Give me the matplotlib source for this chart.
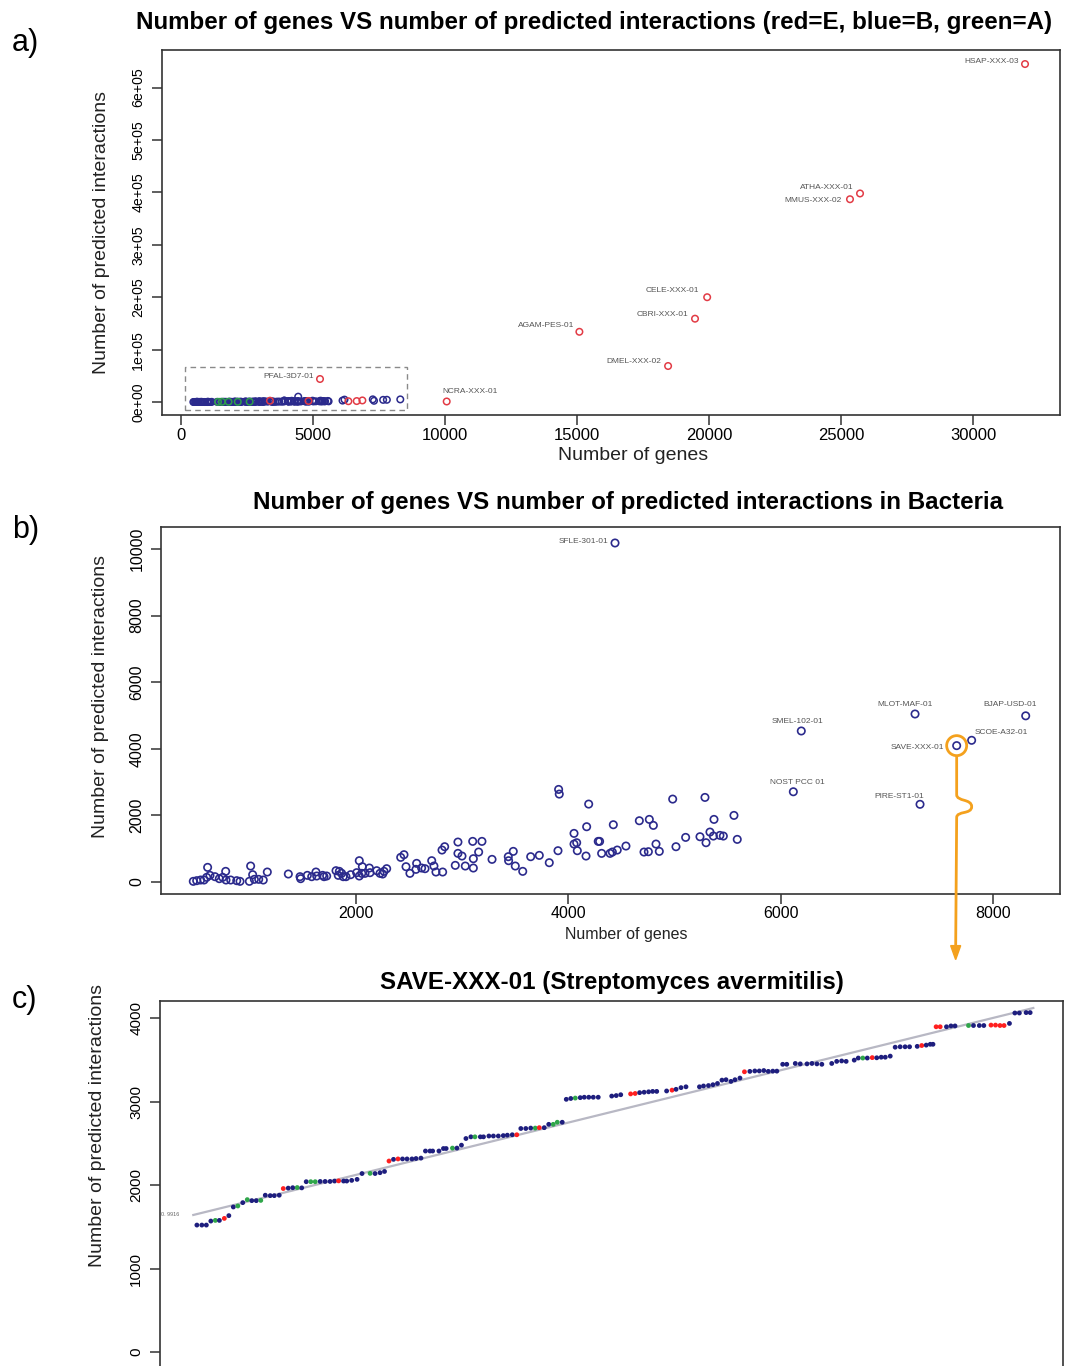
import numpy as np
import matplotlib.pyplot as plt
import matplotlib.patches as mpatches
import matplotlib.transforms as mtransforms
from matplotlib.path import Path

plt.rcParams['font.family'] = ['Liberation Sans', 'DejaVu Sans']

# bacteria (blue), genes vs predicted interactions
bact_genes = [468, 500, 537, 569, 603, 594, 625, 672, 713, 745,
              773, 776, 820, 877, 908, 996, 1008, 1027, 1043, 1084,
              1127, 1165, 1363, 1473, 1479, 1542, 1583, 1623, 1630, 1686,
              1699, 1724, 1812, 1843, 1833, 1865, 1880, 1906, 1950, 2006,
              2031, 2031, 2054, 2060, 2085, 2126, 2132, 2195, 2226, 2251,
              2264, 2289, 2421, 2452, 2471, 2508, 2571, 2565, 2618, 2650,
              2713, 2734, 2753, 2816, 2810, 2835, 2935, 2960, 2960, 2998,
              3029, 3099, 3105, 3105, 3155, 3186, 3281, 3434, 3437, 3481,
              3500, 3570, 3645, 3726, 3820, 3902, 3908, 3914, 4053, 4053,
              4078, 4084, 4172, 4166, 4191, 4281, 4294, 4313, 4392, 4414,
              4423, 4460, 4542, 4668, 4712, 4753, 4762, 4800, 4825, 4856,
              4982, 5013, 5104, 5239, 5286, 5296, 5333, 5371, 5365, 5427,
              5459, 5559, 5590]
bact_inter = [20, 40, 60, 60, 440, 140, 200, 160, 100, 140,
              320, 60, 60, 40, 20, 20, 480, 220, 80, 80,
              60, 300, 240, 160, 100, 200, 160, 300, 180, 200,
              160, 180, 340, 320, 200, 260, 160, 160, 220, 280,
              640, 180, 260, 460, 260, 420, 280, 340, 260, 240,
              320, 400, 740, 820, 460, 260, 560, 380, 420, 400,
              640, 480, 300, 300, 960, 1060, 500, 1200, 860, 780,
              480, 1220, 700, 420, 900, 1220, 680, 760, 640, 920,
              480, 320, 760, 800, 580, 940, 2780, 2640, 1460, 1140,
              1180, 940, 1660, 780, 2340, 1220, 1220, 860, 860, 900,
              1720, 960, 1080, 1840, 900, 910, 1880, 1700, 1140, 920,
              2490, 1060, 1340, 1360, 2540, 1180, 1500, 1880, 1380, 1400,
              1380, 2000, 1280]

# labelled bacteria
bl_names = ["SFLE-301-01", "SMEL-102-01", "MLOT-MAF-01", "BJAP-USD-01",
            "SCOE-A32-01", "SAVE-XXX-01", "NOST PCC 01", "PIRE-ST1-01"]
bl_genes = [4439, 6193, 7264, 8306, 7797, 7656, 6118, 7311]
bl_inter = [10180, 4535, 5045, 4990, 4255, 4095, 2710, 2333]
bl_offs = [(-7, 1, 'right'), (-4, 9, 'center'), (-10, 9, 'center'), (-16, 11, 'center'),
           (30, 8, 'center'), (-13, -2, 'right'), (4, 9, 'center'), (-21, 8, 'center')]

# eukaryota (red), labelled
el_names = ["HSAP-XXX-03", "ATHA-XXX-01", "MMUS-XXX-02", "CELE-XXX-01", "CBRI-XXX-01",
            "AGAM-PES-01", "DMEL-XXX-02", "PFAL-3D7-01", "NCRA-XXX-01"]
el_genes = [31970, 25720, 25340, 19930, 19470, 15090, 18450, 5265, 10064]
el_inter = [645000, 398000, 387000, 200000, 159000, 134000, 68700, 43900, 1000]
el_offs = [(-6, 3, 'right'), (-6, 6, 'right'), (-8, -1, 'right'), (-8, 7, 'right'),
           (-7, 4, 'right'), (-5, 6, 'right'), (-7, 5, 'right'), (-6, 3, 'right'),
           (-4, 10, 'left')]
# other eukaryota and archaea near zero
eu_genes = [3370, 4830, 6340, 6655, 6870]
eu_inter = [2500, 2000, 1500, 1800, 3000]
ar_genes = [1400, 1550, 1800, 2150, 2600]
ar_inter = [300, 400, 500, 400, 600]
zoom_box = (150, -15000, 8560, 67000)

# SAVE-XXX-01 ranking
c_rank = [0.0, 1.1, 2.1, 3.1, 4.1, 5.0, 6.1, 7.1, 8.1, 9.1,
          10.2, 11.2, 12.2, 13.2, 14.2, 15.2, 16.3, 17.2, 18.3, 19.2,
          20.3, 21.3, 22.3, 23.3, 24.3, 25.3, 26.3, 27.4, 28.5, 29.6,
          30.6, 31.5, 32.6, 33.3, 34.4, 35.6, 36.7, 38.5, 39.6, 40.7,
          41.7, 42.7, 43.7, 44.7, 45.7, 46.7, 47.8, 48.7, 49.8, 50.8,
          51.8, 52.4, 53.8, 54.8, 55.4, 56.8, 57.8, 58.8, 59.8, 60.9,
          61.8, 63.0, 63.7, 64.9, 65.9, 67.0, 68.1, 69.0, 70.1, 71.1,
          72.0, 73.1, 74.2, 75.2, 76.1, 77.2, 78.2, 79.2, 80.1, 81.2,
          82.1, 83.1, 84.1, 85.2, 86.1, 87.1, 88.1, 89.2, 92.2, 93.2,
          94.2, 96.4, 97.4, 98.4, 99.4, 100.4, 101.3, 102.2, 104.4, 105.6,
          106.5, 107.6, 108.7, 111.7, 112.6, 113.7, 114.7, 115.7, 116.7, 117.6,
          118.7, 119.6, 120.7, 121.7, 122.9, 124.0, 125.0, 126.0, 127.0, 128.0,
          128.9, 130.2, 131.1, 133.0, 134.1, 135.6, 136.7, 137.8, 138.9, 141.1,
          142.2, 143.3, 144.3, 146.1, 147.0, 148.0, 149.0, 150.1, 151.1, 152.1,
          153.0, 154.1, 155.2, 156.3, 157.4, 158.4, 160.1, 161.1, 162.1, 163.0,
          163.6, 164.3, 165.2, 166.6, 167.6, 168.5, 171.5, 172.6, 173.9, 174.9,
          176.5, 177.5, 178.5, 179.4, 180.6, 181.8, 182.8, 184.3, 185.2]
c_inter = [1522, 1522, 1522, 1570, 1578, 1578, 1602, 1635, 1739, 1751,
           1791, 1827, 1815, 1815, 1818, 1880, 1875, 1875, 1880, 1960,
           1965, 1970, 1972, 1968, 2042, 2042, 2042, 2045, 2045, 2045,
           2050, 2052, 2050, 2050, 2058, 2070, 2140, 2142, 2140, 2150,
           2165, 2290, 2310, 2315, 2315, 2315, 2315, 2320, 2325, 2410,
           2410, 2410, 2410, 2440, 2440, 2445, 2445, 2480, 2560, 2580,
           2580, 2580, 2580, 2590, 2590, 2590, 2595, 2600, 2605, 2605,
           2680, 2680, 2685, 2685, 2690, 2690, 2730, 2730, 2755, 2755,
           3030, 3040, 3045, 3050, 3055, 3055, 3055, 3055, 3069, 3075,
           3085, 3095, 3100, 3110, 3115, 3120, 3125, 3125, 3130, 3140,
           3150, 3170, 3180, 3180, 3190, 3195, 3205, 3220, 3260, 3265,
           3245, 3265, 3285, 3360, 3365, 3370, 3370, 3375, 3365, 3368,
           3368, 3450, 3450, 3460, 3455, 3455, 3460, 3455, 3450, 3460,
           3485, 3490, 3485, 3500, 3525, 3525, 3525, 3530, 3528, 3535,
           3535, 3548, 3655, 3660, 3660, 3660, 3665, 3675, 3680, 3690,
           3690, 3900, 3900, 3900, 3910, 3910, 3915, 3915, 3915, 3915,
           3920, 3920, 3915, 3915, 3940, 4065, 4065, 4070, 4070]
c_type = ("bbbbgbrbbg" "bgbbgbbbbr" "bbgbbggbbb" "brbbbbbgbb"
          "brbrbbbbbb" "bbbbbgbbbb" "gbbbbbbbbr" "bbbgrbbggb"
          "bbgbbbbbbb" "brrbbbbbbr" "bbbbbbbbbb" "bbbrbbbbbb" "bbbbbbbbbb"
          "bbbbbgbrbb" "bbbbbbbrbb" "brrbbbgbbb" "rrrrbbbbb")
c_fit_x = [-0.8, 185.9]
c_fit_y = [1643, 4125]
c_r2 = "0. 9916"

red = '#e23b45'
blue = '#2b2a8c'
green = '#2e9e4a'
orange = '#f4a11d'
type_col = {'b': '#1e1e7e', 'r': '#ff2020', 'g': '#2fa64a'}

W, H = 1065, 1366
fig = plt.figure(figsize=(W / 100, H / 100), dpi=100)


def box(l, t, r, b):
    return [l / W, 1 - b / H, (r - l) / W, (b - t) / H]


def r_axes(ax, size):
    for s in ax.spines.values():
        s.set_color('#333333')
        s.set_linewidth(1.2)
    ax.tick_params(direction='out', length=7, width=1.1, color='#333333',
                   labelsize=size)
    ax.tick_params(axis='x', pad=2)
    ax.tick_params(axis='y', pad=5)
    plt.setp(ax.get_yticklabels(), rotation=90, va='center')


# a) all genomes
ax = fig.add_axes(box(162, 50, 1060, 415))
ax.scatter(bact_genes + bl_genes, bact_inter + bl_inter, s=22, facecolors='none',
           edgecolors=blue, linewidths=1.1, zorder=3)
ax.scatter(ar_genes, ar_inter, s=22, facecolors='none', edgecolors=green,
           linewidths=1.1, zorder=3)
ax.scatter(eu_genes + el_genes, eu_inter + el_inter, s=22, facecolors='none',
           edgecolors=red, linewidths=1.1, zorder=4)
for n, gx, gy, (dx, dy, ha) in zip(el_names, el_genes, el_inter, el_offs):
    ax.annotate(n, (gx, gy), xytext=(dx, dy), textcoords='offset pixels',
                ha=ha, va='center', fontsize=6.0, color='#555555')
ax.add_patch(mpatches.Rectangle((zoom_box[0], zoom_box[1]), zoom_box[2] - zoom_box[0],
                                zoom_box[3] - zoom_box[1], fill=False, ec='#8a8a8a',
                                lw=1.0, ls=(0, (4, 3))))
ax.set_xlim(-720, 33295)
ax.set_ylim(-24800, 671800)
ax.set_xticks([0, 5000, 10000, 15000, 20000, 25000, 30000])
ax.set_yticks([0, 1e5, 2e5, 3e5, 4e5, 5e5, 6e5],
              ["0e+00", "1e+05", "2e+05", "3e+05", "4e+05", "5e+05", "6e+05"])
r_axes(ax, 12)
plt.setp(ax.get_yticklabels(), fontsize=10.2)
ax.set_xlabel("Number of genes", fontsize=14, color='#222222')
ax.xaxis.set_label_coords(0.525, -0.088)
ax.set_ylabel("Number of predicted interactions", fontsize=14, color='#222222')
ax.yaxis.set_label_coords(-0.058, 0.5)
fig.text(594.5 / W, 1 - 23 / H, "Number of genes VS number of predicted interactions (red=E, blue=B, green=A)",
         ha='center', va='center', fontsize=17.4, fontweight='bold')
fig.text(12 / W, 1 - 43 / H, "a)", ha='left', va='center', fontsize=22)

# b) bacteria
ax_b = fig.add_axes(box(161, 527, 1060, 894))
ax_b.scatter(bact_genes + bl_genes, bact_inter + bl_inter, s=28, facecolors='none',
             edgecolors=blue, linewidths=1.2, zorder=3)
for n, gx, gy, (dx, dy, ha) in zip(bl_names, bl_genes, bl_inter, bl_offs):
    ax_b.annotate(n, (gx, gy), xytext=(dx, dy), textcoords='offset pixels',
                  ha=ha, va='center', fontsize=6.0, color='#555555')
ax_b.set_xlim(164, 8629)
ax_b.set_ylim(-360, 10660)
ax_b.set_xticks([2000, 4000, 6000, 8000])
ax_b.set_yticks([0, 2000, 4000, 6000, 8000, 10000])
r_axes(ax_b, 11.5)
ax_b.set_xlabel("Number of genes", fontsize=11.5, color='#222222')
ax_b.xaxis.set_label_coords(0.518, -0.09)
ax_b.set_ylabel("Number of predicted interactions", fontsize=14, color='#222222')
ax_b.yaxis.set_label_coords(-0.058, 0.538)
fig.text(628.5 / W, 1 - 502 / H, "Number of genes VS number of predicted interactions in Bacteria",
         ha='center', va='center', fontsize=17.4, fontweight='bold')
fig.text(12 / W, 1 - 530 / H, "b)", ha='left', va='center', fontsize=22)

# orange pointer from SAVE-XXX-01 down to c)
k = bl_names.index("SAVE-XXX-01")
tr = mtransforms.Affine2D() + mtransforms.ScaledTranslation(bl_genes[k], bl_inter[k], ax_b.transData)
ax_b.add_patch(mpatches.Circle((0, 0), 10, transform=tr, fill=False, ec=orange,
                               lw=2.0, clip_on=False, zorder=5))
verts = [(0, -11), (0, -49), (0, -56), (15, -53), (15, -61), (15, -69), (0, -65), (0, -72), (-1, -202)]
codes = [Path.MOVETO, Path.LINETO, Path.CURVE4, Path.CURVE4, Path.CURVE4,
         Path.CURVE4, Path.CURVE4, Path.CURVE4, Path.LINETO]
ax_b.add_patch(mpatches.PathPatch(Path(verts, codes), transform=tr, fill=False,
                                  ec=orange, lw=2.0, clip_on=False, zorder=5))
ax_b.add_patch(mpatches.Polygon([(-6, -200), (4, -200), (-1, -214)], closed=True,
                                transform=tr, fc=orange, ec=orange, clip_on=False, zorder=5))

# c) SAVE-XXX-01
ax_c = fig.add_axes(box(160, 1001, 1063, 1368))
ax_c.plot(c_fit_x, c_fit_y, color='#b8b8c4', lw=1.6, zorder=2)
ax_c.scatter(c_rank, c_inter, s=12, c=[type_col[t] for t in c_type],
             edgecolors='none', zorder=3)
ax_c.text(-6, c_fit_y[0], c_r2, fontsize=4, color='#666666', ha='center', va='center')
ax_c.set_xlim(-8.2, 192.5)
ax_c.set_ylim(-192, 4209)
ax_c.set_xticks([])
ax_c.set_yticks([0, 1000, 2000, 3000, 4000])
r_axes(ax_c, 11)
ax_c.set_ylabel("Number of predicted interactions", fontsize=14, color='#222222')
ax_c.yaxis.set_label_coords(-0.06, 0.662)
fig.text(612 / W, 1 - 982 / H, "SAVE-XXX-01 (Streptomyces avermitilis)",
         ha='center', va='center', fontsize=17.4, fontweight='bold')
fig.text(12 / W, 1 - 1000 / H, "c)", ha='left', va='center', fontsize=22)

fig.savefig('out.png', dpi=100)
